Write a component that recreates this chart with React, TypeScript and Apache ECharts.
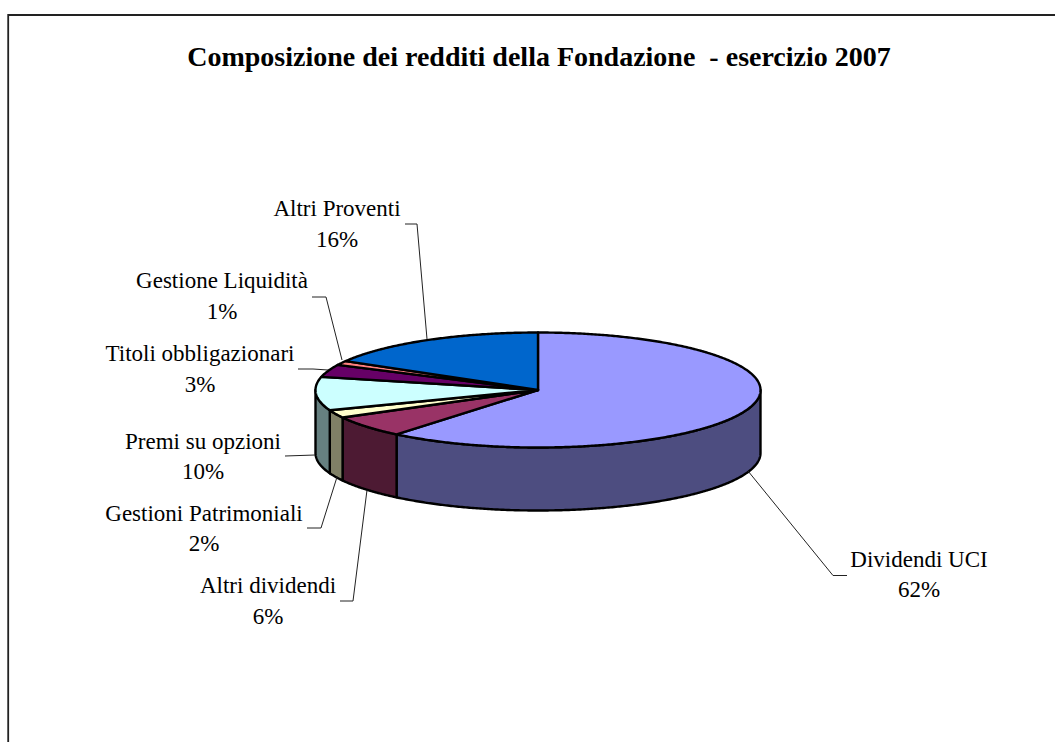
import React, { useEffect, useRef } from "react";
import * as echarts from "echarts";

const TITLE = "Composizione dei redditi della Fondazione  - esercizio 2007";
const categories = [
  "Dividendi UCI",
  "Altri dividendi",
  "Gestioni Patrimoniali",
  "Premi su opzioni",
  "Titoli obbligazionari",
  "Gestione Liquidità",
  "Altri Proventi",
];
const percentLabels = ["62%", "6%", "2%", "10%", "3%", "1%", "16%"];
// slice shares as drawn in the picture
const sliceValues = [60.9, 6.1, 2.2, 9.4, 3.5, 1.2, 16.6];

const topColors = ["#9999FF", "#993366", "#FFFFCC", "#CCFFFF", "#660066", "#FF8080", "#0066CC"];
const sideColors = ["#4D4D80", "#4D1A33", "#808066", "#668080", "#330033", "#804040", "#003366"];

const CX = 538;
const CY = 390;
const RX = 222.5;
const RY = 57.5;
const DEPTH = 63;
const FONT = "'Liberation Serif', 'Times New Roman', serif";

const total = sliceValues.reduce((a, b) => a + b, 0);
const starts = sliceValues.map((_, i) =>
  (sliceValues.slice(0, i).reduce((a, b) => a + b, 0) / total) * 360
);

const pt = (deg: number, dy = 0): number[] => {
  const r = (deg * Math.PI) / 180;
  return [CX + RX * Math.sin(r), CY - RY * Math.cos(r) + dy];
};
const arc = (a: number, b: number, dy = 0): number[][] => {
  const out: number[][] = [];
  const n = Math.max(2, Math.ceil((b - a) * 2));
  for (let i = 0; i <= n; i++) out.push(pt(a + ((b - a) * i) / n, dy));
  return out;
};

const sideItem = (_p: any, api: any) => {
  const i = api.value(0);
  const a = Math.max(starts[i], 90);
  const b = Math.min(starts[i] + (api.value(1) / total) * 360, 270);
  if (b <= a) return { type: "group", children: [] };
  return {
    type: "polygon",
    shape: { points: [...arc(a, b), ...arc(a, b, DEPTH).reverse()] },
    style: { fill: sideColors[i], stroke: "#000", lineWidth: 2.4, lineJoin: "round" },
  };
};
const topItem = (_p: any, api: any) => {
  const i = api.value(0);
  const a = starts[i];
  const b = a + (api.value(1) / total) * 360;
  return {
    type: "polygon",
    shape: { points: [[CX, CY], ...arc(a, b)] },
    style: { fill: topColors[i], stroke: "#000", lineWidth: 2.4, lineJoin: "round" },
  };
};

// label centres and leader lines, in page pixels, same order as categories
const labelLayout = [
  { x: 919, y1: 559, y2: 589 },
  { x: 268, y1: 585, y2: 616 },
  { x: 204, y1: 513, y2: 543 },
  { x: 203, y1: 441, y2: 471 },
  { x: 200, y1: 353, y2: 384 },
  { x: 222, y1: 280, y2: 311 },
  { x: 337, y1: 208, y2: 239 },
];
const leaderLayout = [
  [[847, 575.5], [833, 575.5], [748, 471]],
  [[340, 601], [353, 601], [367, 490]],
  [[307, 528], [321, 528], [337, 477]],
  [[285, 456], [315, 455]],
  [[298, 369], [313, 369], [328, 370]],
  [[312, 297], [326, 297], [342, 360]],
  [[405, 224], [417, 224], [427, 339]],
];

const textEl = (text: string, x: number, y: number) => ({
  type: "text",
  x,
  y,
  style: {
    text,
    fill: "#000",
    font: `23px ${FONT}`,
    textAlign: "center",
    textVerticalAlign: "middle",
  },
});

export default function App() {
  const ref = useRef<HTMLDivElement>(null);
  useEffect(() => {
    document.body.style.margin = "0";
    const chart = echarts.init(ref.current!, undefined, { renderer: "svg" });
    chart.setOption({
      animation: false,
      backgroundColor: "#fff",
      title: {
        text: TITLE,
        left: 534,
        top: 37,
        textAlign: "center",
        textStyle: { fontFamily: FONT, fontSize: 28, fontWeight: "bold", color: "#000" },
      },
      series: [
        {
          type: "custom",
          coordinateSystem: "none",
          z: 1,
          silent: true,
          renderItem: sideItem,
          data: sliceValues.map((v, i) => [i, v]),
        },
        {
          type: "custom",
          coordinateSystem: "none",
          z: 2,
          silent: true,
          renderItem: topItem,
          data: sliceValues.map((v, i) => [i, v]),
        },
      ],
      graphic: {
        elements: [
          {
            type: "polyline",
            z: 0,
            shape: { points: [[8.2, 742], [8.2, 15], [1055, 15]] },
            style: { stroke: "#222", lineWidth: 1.8, fill: "none" },
          },
          ...leaderLayout.map((points) => ({
            type: "polyline",
            z: 3,
            shape: { points },
            style: { stroke: "#222", lineWidth: 1, fill: "none" },
          })),
          ...categories.flatMap((c, i) => [
            textEl(c, labelLayout[i].x, labelLayout[i].y1),
            textEl(percentLabels[i], labelLayout[i].x, labelLayout[i].y2),
          ]),
        ],
      },
    });
    return () => chart.dispose();
  }, []);
  return <div ref={ref} style={{ width: 1055, height: 742 }} />;
}
